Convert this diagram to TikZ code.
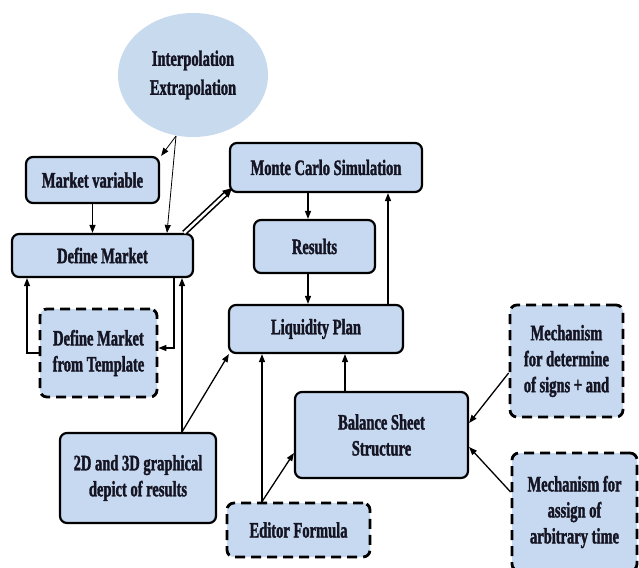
\documentclass[tikz,border=0pt]{standalone}
\usepackage{fontspec}
\setmainfont{Liberation Serif}[FakeStretch=0.66, BoldFeatures={FakeBold=1.5}]
\usetikzlibrary{arrows.meta,shapes.geometric,calc}
\definecolor{boxfill}{RGB}{198,217,240}
\definecolor{ellfill}{RGB}{200,218,238}
\definecolor{txt}{RGB}{20,20,35}
\begin{document}
\begin{tikzpicture}[x=1pt,y=-1pt,
  lbl/.style={font=\fontsize{22}{26}\selectfont\bfseries, text=txt, align=center, inner sep=0pt},
  solidbox/.style={lbl, draw=black, line width=2.2pt, rounded corners=7pt, fill=boxfill, rectangle},
  dashbox/.style={solidbox, line width=2.8pt, dash pattern=on 10pt off 6pt},
  arr/.style={line width=1.3pt, -{Triangle[length=8pt,width=6pt]}},
  thinarr/.style={line width=0.8pt, -{Triangle[length=8pt,width=6pt]}}
]
\useasboundingbox (0,0) rectangle (639,567);
\fill[white] (0,0) rectangle (639,567);

\node[ellipse, fill=ellfill, minimum width=150pt, minimum height=124pt, lbl] (ell) at (193,75) {Interpolation\\[3pt]Extrapolation};

\node[solidbox, minimum width=133pt, minimum height=46pt] (mv) at (92.5,180) {Market variable};
\node[solidbox, minimum width=181pt, minimum height=43pt] (dm) at (102.5,255.5) {Define Market};
\node[solidbox, minimum width=192pt, minimum height=49pt] (mc) at (326,167.5) {Monte Carlo Simulation};
\node[solidbox, minimum width=121pt, minimum height=53pt] (res) at (314.5,246.5) {Results};
\node[solidbox, minimum width=174pt, minimum height=48pt] (lp) at (316,329) {Liquidity Plan};
\node[dashbox, minimum width=117pt, minimum height=88pt] (tpl) at (98.5,353) {Define Market\\from Template};
\node[solidbox, minimum width=156pt, minimum height=90pt] (g2d) at (138,478) {2D and 3D graphical\\depict of results};
\node[solidbox, minimum width=173pt, minimum height=86pt] (bs) at (381.5,435) {Balance Sheet\\Structure};
\node[dashbox, minimum width=143pt, minimum height=54pt] (ef) at (298.5,530) {Editor Formula};
\node[dashbox, minimum width=113pt, minimum height=112pt] (m1) at (566.5,361) {Mechanism\\for determine\\of signs + and};
\node[dashbox, minimum width=125pt, minimum height=118pt] (m2) at (574.5,512) {Mechanism for\\assign of\\arbitrary time};

% ellipse arrows
\coordinate (ep) at (176,136);
\draw[thinarr] (ep) -- ([xshift=1pt]mv.north east);
\draw[thinarr] (ep) -- ([xshift=64.5pt]dm.north);

% market variable -> define market
\draw[arr] (mv.south) -- (mv.south |- dm.north);

% double arrow define market -> monte carlo
\draw[double=white, double distance=2.5pt, line width=1.6pt, -{Triangle[length=9pt,width=9pt]}]
  ([xshift=-10pt]dm.north east) -- ([xshift=3pt,yshift=5pt]mc.south west);

% monte carlo -> results -> liquidity plan
\coordinate (r1) at ([xshift=-6.5pt]res.north);
\draw[arr] (mc.south -| r1) -- (r1);
\draw[arr] (res.south -| r1) -- (lp.north -| r1);
\coordinate (l1) at ([xshift=72pt]lp.north);
\draw[arr] (l1) -- (mc.south -| l1);

% template loops
\draw[arr] (tpl.west) -| ([xshift=-75.5pt]dm.south);
\draw[arr] ([xshift=71.5pt]dm.south) |- ([yshift=5pt]tpl.east);

% 2D graphical
\coordinate (g2) at ([xshift=44pt]g2d.north);
\draw[arr] (g2) -- (g2 |- dm.south);
\draw[arr] (g2) -- ([xshift=1pt]lp.south west);

% editor formula
\coordinate (e1) at ([xshift=-36.5pt]ef.north);
\draw[arr] (e1) -- (e1 |- lp.south);
\draw[arr] (e1) -- ([yshift=-18pt]bs.west);

% balance sheet -> liquidity plan
\coordinate (b1) at ([xshift=-36.5pt]bs.north);
\draw[arr] (b1) -- (b1 |- lp.south);

% mechanisms -> balance sheet
\draw[arr] ([yshift=-12pt]m1.west) -- ([yshift=12pt]bs.east);
\draw[arr] ([yshift=20pt]m2.west) -- ([yshift=-12pt]bs.east);
\end{tikzpicture}
\end{document}
